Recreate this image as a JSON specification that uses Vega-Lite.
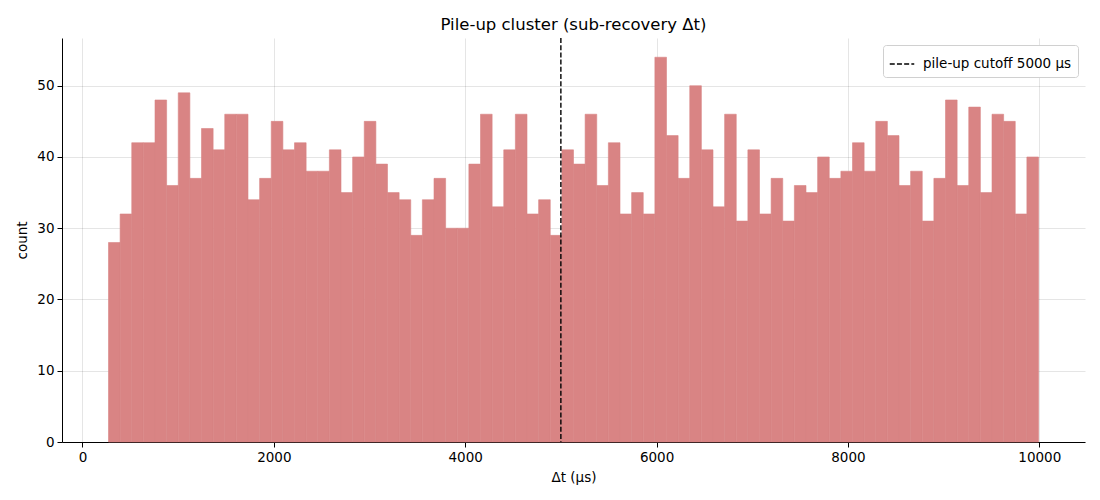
{
  "$schema": "https://vega.github.io/schema/vega-lite/v6.json",
  "width": 1023,
  "height": 404,
  "autosize": {"type": "none"},
  "padding": {"left": 62, "top": 38, "right": 15, "bottom": 58},
  "background": "white",
  "title": {
    "text": "Pile-up cluster (sub-recovery Δt)",
    "font": "DejaVu Sans",
    "fontSize": 16.5,
    "fontWeight": "normal",
    "color": "black",
    "offset": 4
  },
  "datasets": {
    "hist": [
      {"lo": 272, "hi": 393.5, "count": 28},
      {"lo": 393.5, "hi": 515, "count": 32},
      {"lo": 515, "hi": 636.5, "count": 42},
      {"lo": 636.5, "hi": 758, "count": 42},
      {"lo": 758, "hi": 879.5, "count": 48},
      {"lo": 879.5, "hi": 1001, "count": 36},
      {"lo": 1001, "hi": 1122.5, "count": 49},
      {"lo": 1122.5, "hi": 1244, "count": 37},
      {"lo": 1244, "hi": 1365.5, "count": 44},
      {"lo": 1365.5, "hi": 1487, "count": 41},
      {"lo": 1487, "hi": 1608.5, "count": 46},
      {"lo": 1608.5, "hi": 1730, "count": 46},
      {"lo": 1730, "hi": 1851.5, "count": 34},
      {"lo": 1851.5, "hi": 1973, "count": 37},
      {"lo": 1973, "hi": 2094.5, "count": 45},
      {"lo": 2094.5, "hi": 2216, "count": 41},
      {"lo": 2216, "hi": 2337.5, "count": 42},
      {"lo": 2337.5, "hi": 2459, "count": 38},
      {"lo": 2459, "hi": 2580.5, "count": 38},
      {"lo": 2580.5, "hi": 2702, "count": 41},
      {"lo": 2702, "hi": 2823.5, "count": 35},
      {"lo": 2823.5, "hi": 2945, "count": 40},
      {"lo": 2945, "hi": 3066.5, "count": 45},
      {"lo": 3066.5, "hi": 3188, "count": 39},
      {"lo": 3188, "hi": 3309.5, "count": 35},
      {"lo": 3309.5, "hi": 3431, "count": 34},
      {"lo": 3431, "hi": 3552.5, "count": 29},
      {"lo": 3552.5, "hi": 3674, "count": 34},
      {"lo": 3674, "hi": 3795.5, "count": 37},
      {"lo": 3795.5, "hi": 3917, "count": 30},
      {"lo": 3917, "hi": 4038.5, "count": 30},
      {"lo": 4038.5, "hi": 4160, "count": 39},
      {"lo": 4160, "hi": 4281.5, "count": 46},
      {"lo": 4281.5, "hi": 4403, "count": 33},
      {"lo": 4403, "hi": 4524.5, "count": 41},
      {"lo": 4524.5, "hi": 4646, "count": 46},
      {"lo": 4646, "hi": 4767.5, "count": 32},
      {"lo": 4767.5, "hi": 4889, "count": 34},
      {"lo": 4889, "hi": 5010.5, "count": 29},
      {"lo": 5010.5, "hi": 5132, "count": 41},
      {"lo": 5132, "hi": 5253.5, "count": 39},
      {"lo": 5253.5, "hi": 5375, "count": 46},
      {"lo": 5375, "hi": 5496.5, "count": 36},
      {"lo": 5496.5, "hi": 5618, "count": 42},
      {"lo": 5618, "hi": 5739.5, "count": 32},
      {"lo": 5739.5, "hi": 5861, "count": 35},
      {"lo": 5861, "hi": 5982.5, "count": 32},
      {"lo": 5982.5, "hi": 6104, "count": 54},
      {"lo": 6104, "hi": 6225.5, "count": 43},
      {"lo": 6225.5, "hi": 6347, "count": 37},
      {"lo": 6347, "hi": 6468.5, "count": 50},
      {"lo": 6468.5, "hi": 6590, "count": 41},
      {"lo": 6590, "hi": 6711.5, "count": 33},
      {"lo": 6711.5, "hi": 6833, "count": 46},
      {"lo": 6833, "hi": 6954.5, "count": 31},
      {"lo": 6954.5, "hi": 7076, "count": 41},
      {"lo": 7076, "hi": 7197.5, "count": 32},
      {"lo": 7197.5, "hi": 7319, "count": 37},
      {"lo": 7319, "hi": 7440.5, "count": 31},
      {"lo": 7440.5, "hi": 7562, "count": 36},
      {"lo": 7562, "hi": 7683.5, "count": 35},
      {"lo": 7683.5, "hi": 7805, "count": 40},
      {"lo": 7805, "hi": 7926.5, "count": 37},
      {"lo": 7926.5, "hi": 8048, "count": 38},
      {"lo": 8048, "hi": 8169.5, "count": 42},
      {"lo": 8169.5, "hi": 8291, "count": 38},
      {"lo": 8291, "hi": 8412.5, "count": 45},
      {"lo": 8412.5, "hi": 8534, "count": 43},
      {"lo": 8534, "hi": 8655.5, "count": 36},
      {"lo": 8655.5, "hi": 8777, "count": 38},
      {"lo": 8777, "hi": 8898.5, "count": 31},
      {"lo": 8898.5, "hi": 9020, "count": 37},
      {"lo": 9020, "hi": 9141.5, "count": 48},
      {"lo": 9141.5, "hi": 9263, "count": 36},
      {"lo": 9263, "hi": 9384.5, "count": 47},
      {"lo": 9384.5, "hi": 9506, "count": 35},
      {"lo": 9506, "hi": 9627.5, "count": 46},
      {"lo": 9627.5, "hi": 9749, "count": 45},
      {"lo": 9749, "hi": 9870.5, "count": 32},
      {"lo": 9870.5, "hi": 9992, "count": 40}
    ],
    "cutoff": [
      {"dt": 5000, "label": "pile-up cutoff 5000 μs"}
    ]
  },
  "layer": [
    {
      "data": {"name": "hist"},
      "mark": {"type": "bar", "color": "#d98484", "stroke": "#d98484", "strokeWidth": 0.6},
      "encoding": {
        "x": {
          "field": "lo",
          "type": "quantitative",
          "scale": {"domain": [-214, 10478], "nice": false, "zero": false},
          "axis": {"title": "Δt (μs)", "values": [0, 2000, 4000, 6000, 8000, 10000], "format": "d"}
        },
        "x2": {"field": "hi"},
        "y": {
          "field": "count",
          "type": "quantitative",
          "scale": {"domain": [0, 56.7], "nice": false},
          "axis": {"title": "count", "values": [0, 10, 20, 30, 40, 50]}
        },
        "y2": {"datum": 0}
      }
    },
    {
      "data": {"name": "cutoff"},
      "mark": {"type": "rule", "color": "black", "strokeWidth": 1.4},
      "encoding": {
        "x": {"field": "dt", "type": "quantitative"},
        "strokeDash": {
          "field": "label",
          "type": "nominal",
          "scale": {"range": [[5, 2.2]]},
          "legend": {
            "title": null,
            "orient": "top-right",
            "offset": 7,
            "padding": 6,
            "fillColor": "white",
            "strokeColor": "#d0d0d0",
            "cornerRadius": 3,
            "symbolType": "stroke",
            "symbolSize": 600,
            "symbolStrokeColor": "black",
            "symbolStrokeWidth": 1.4,
            "labelFont": "DejaVu Sans",
            "labelFontSize": 13.5,
            "labelColor": "black",
            "labelOffset": 8
          }
        }
      }
    }
  ],
  "config": {
    "view": {"stroke": null},
    "font": "DejaVu Sans",
    "axis": {
      "zindex": 1,
      "labelFont": "DejaVu Sans",
      "labelFontSize": 13.5,
      "labelColor": "black",
      "titleFont": "DejaVu Sans",
      "titleFontSize": 13.5,
      "titleFontWeight": "normal",
      "titleColor": "black",
      "domainColor": "black",
      "domainWidth": 1,
      "tickColor": "black",
      "tickSize": 5,
      "labelPadding": 3,
      "gridColor": "black",
      "gridOpacity": 0.1,
      "gridWidth": 1,
      "grid": true
    },
    "axisX": {"titlePadding": 7, "labelFlush": false},
    "axisY": {"titlePadding": 7, "labelFlush": false}
  }
}
